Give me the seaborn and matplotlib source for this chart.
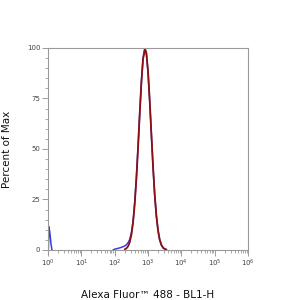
import numpy as np
import pandas as pd
import matplotlib
matplotlib.use("Agg")
import matplotlib.pyplot as plt
import seaborn as sns
from matplotlib.ticker import LogLocator, LogFormatterMathtext, MultipleLocator, NullFormatter

# log10 intensity positions and percent-of-max values
red_logx = [2.30, 2.35, 2.40, 2.45, 2.50, 2.55, 2.60, 2.65, 2.70, 2.75, 2.80, 2.85, 2.91,
            2.95, 3.00, 3.05, 3.10, 3.15, 3.20, 3.25, 3.30, 3.35, 3.40, 3.45, 3.50, 3.55]
red_pct = [0.3, 0.8, 1.8, 3.8, 7.5, 13.5, 22.7, 35.2, 50.6, 67.4, 83.0, 94.6, 99.5,
           97.6, 88.2, 73.9, 57.3, 41.1, 27.3, 16.8, 9.6, 5.0, 2.5, 1.1, 0.5, 0.2]

# blue: low-end spike, then the main peak
blue_spike_logx = [0.01, 0.03, 0.06, 0.09, 0.12]
blue_spike_pct = [0.0, 11.5, 8.0, 3.0, 0.0]
blue_logx = [1.95, 2.00, 2.10, 2.20, 2.30, 2.35, 2.40, 2.45, 2.50,
             2.55, 2.60, 2.65, 2.70, 2.75, 2.80, 2.85, 2.90, 2.95, 3.00, 3.05, 3.10, 3.15,
             3.20, 3.25, 3.30, 3.35, 3.40, 3.45, 3.50, 3.55]
blue_pct = [0.0, 0.4, 0.8, 1.3, 2.0, 2.6, 3.6, 5.2, 8.5,
            14.0, 23.5, 36.0, 51.0, 67.5, 83.0, 95.0, 100.0, 97.0, 88.0, 73.5, 57.0, 41.0,
            27.0, 16.8, 9.6, 5.0, 2.5, 1.1, 0.5, 0.2]

y_ticks = [0, 25, 50, 75, 100]

df_spike = pd.DataFrame({"x": 10 ** np.array(blue_spike_logx), "y": blue_spike_pct})
df_blue = pd.DataFrame({"x": 10 ** np.array(blue_logx), "y": blue_pct})
df_red = pd.DataFrame({"x": 10 ** np.array(red_logx), "y": red_pct})

sns.set_style("white")
plt.rcParams['font.family'] = ['DejaVu Sans']

fig = plt.figure(figsize=(3, 3), dpi=100)
ax = fig.add_axes([0.16, 0.1667, 0.667, 0.6733])

sns.lineplot(data=df_spike, x="x", y="y", color="#3c3cdc", lw=1.1, ax=ax, sort=False)
sns.lineplot(data=df_blue, x="x", y="y", color="#3c3cdc", lw=1.1, ax=ax, sort=False)
sns.lineplot(data=df_red, x="x", y="y", color="#8e0f12", lw=1.3, ax=ax, sort=False)

ax.set_xscale("log")
ax.set_xlim(1, 1e6)
ax.set_ylim(0, 100)
ax.xaxis.set_major_locator(LogLocator(base=10, numticks=10))
ax.xaxis.set_major_formatter(LogFormatterMathtext())
ax.xaxis.set_minor_locator(LogLocator(base=10, subs=np.arange(2, 10), numticks=100))
ax.xaxis.set_minor_formatter(NullFormatter())
ax.set_yticks(y_ticks)
ax.yaxis.set_minor_locator(MultipleLocator(5))

for s in ax.spines.values():
    s.set_color("#9a9a9a")
    s.set_linewidth(0.8)

ax.tick_params(axis="both", which="both", bottom=True, left=True, top=False, right=False)
ax.tick_params(axis="both", which="major", direction="out", length=4, width=0.7,
               colors="#9a9a9a", labelcolor="#444444", labelsize=5, pad=1.5)
ax.tick_params(axis="both", which="minor", direction="out", length=2.5, width=0.6,
               colors="#9a9a9a")

ax.set_xlabel("Alexa Fluor\u2122 488 - BL1-H", fontsize=7.5, color="#111111")
ax.set_ylabel("Percent of Max", fontsize=7.5, color="#111111")
ax.yaxis.set_label_coords(-0.18, 0.5)
ax.xaxis.set_label_coords(0.5, -0.2)

fig.savefig("out.png", dpi=100)
